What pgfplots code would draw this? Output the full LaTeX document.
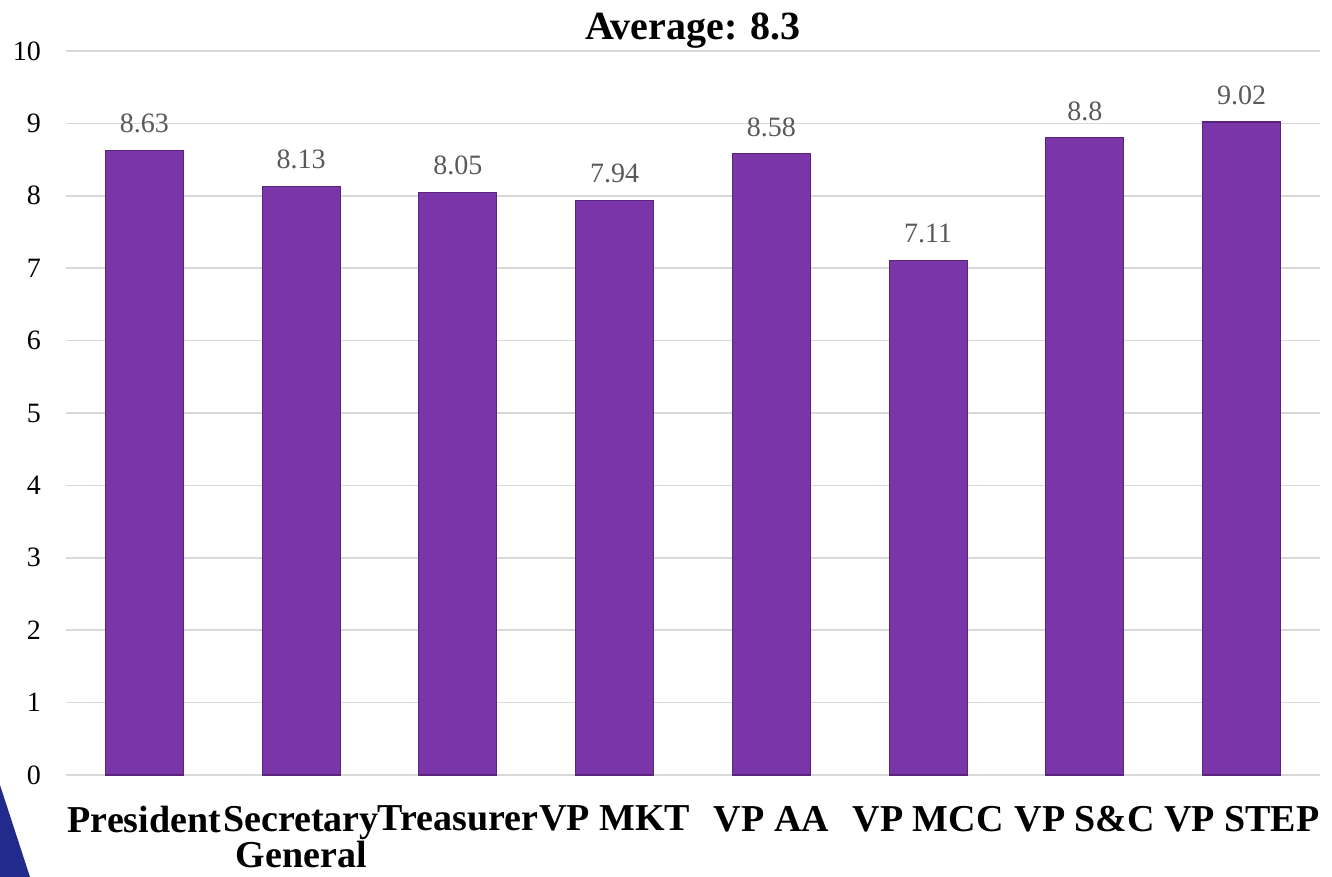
\documentclass[border=0pt]{standalone}
\usepackage{fontspec}
\setmainfont{Liberation Serif}
\usepackage{pgfplots}
\pgfplotsset{compat=1.18}
\definecolor{barpurple}{RGB}{122,53,168}
\definecolor{bardark}{RGB}{88,36,124}
\definecolor{gridgray}{RGB}{217,217,217}
\definecolor{labelgray}{RGB}{89,89,89}
\definecolor{navy}{RGB}{34,42,140}

\begin{document}
\begin{tikzpicture}
    % page = 1332 x 877 px at 0.5pt per px, plot box corner at (0,0)
    \useasboundingbox (-33pt,-51pt) rectangle (633pt,387.5pt);
    \fill[navy] (-33pt,-5pt) -- (-18pt,-51pt) -- (-33pt,-51pt) -- cycle;
    \begin{axis}[
        at={(0,0)}, anchor=south west,
        scale only axis,
        width=627pt,
        height=362pt,
        ybar,
        bar width=39pt,
        xmin=-0.5, xmax=7.5,
        ymin=0, ymax=10,
        xtick=data,
        xticklabels={President,{Secretary\\General},Treasurer,VP MKT,VP AA,VP MCC,VP S\&C,VP STEP},
        ytick={0,1,...,10},
        axis line style={draw=none},
        major tick length=0pt,
        ymajorgrids,
        grid style={gridgray, line width=0.8pt},
        /pgf/number format/assume math mode=true,
        yticklabel style={font=\fontsize{14}{14}\selectfont, text=black, xshift=-9pt},
        xticklabel style={font=\fontsize{19}{16}\selectfont\bfseries, text=black, align=center, yshift=-12pt},
        nodes near coords,
        nodes near coords style={font=\fontsize{14}{14}\selectfont, text=labelgray, yshift=5pt,
            /pgf/number format/.cd, fixed, precision=2},
        clip=false,
    ]
    \addplot[fill=barpurple, draw=bardark, line width=0.6pt] coordinates {
        (0,8.63) (1,8.13) (2,8.05) (3,7.94) (4,8.58) (5,7.11) (6,8.8) (7,9.02)
    };
    \node[anchor=base, font=\fontsize{20}{20}\selectfont\bfseries, yshift=5.5pt]
        at (rel axis cs:0.5,1) {Average: 8.3};
    \end{axis}
\end{tikzpicture}
\end{document}
